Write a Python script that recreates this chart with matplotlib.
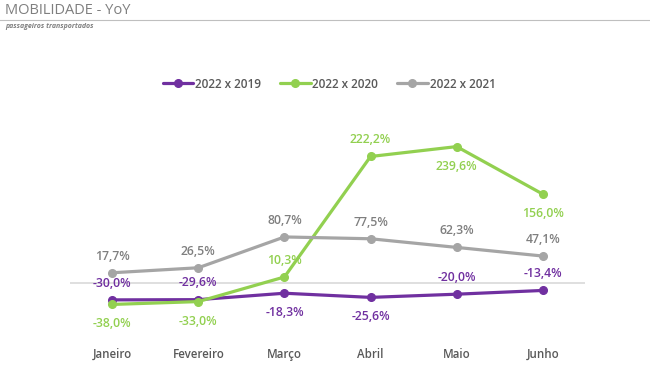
import matplotlib.pyplot as plt

months = ['Janeiro', 'Fevereiro', 'Março', 'Abril', 'Maio', 'Junho']
yoy_2019 = [-30.0, -29.6, -18.3, -25.6, -20.0, -13.4]
yoy_2020 = [-38.0, -33.0, 10.3, 222.2, 239.6, 156.0]
yoy_2021 = [17.7, 26.5, 80.7, 77.5, 62.3, 47.1]
series_names = ['2022 x 2019', '2022 x 2020', '2022 x 2021']

# label placement per point: 1 above, -1 below
pos_2019 = [1, 1, -1, -1, 1, 1]
pos_2020 = [-1, -1, 1, 1, -1, -1]
pos_2021 = [1, 1, 1, 1, 1, 1]

purple = '#7030A0'
green = '#92D050'
gray = '#A5A5A5'
textgray = '#7F7F7F'

plt.rcParams['font.family'] = ['Open Sans', 'DejaVu Sans']

fig = plt.figure(figsize=(6.5, 3.66), dpi=100)
W, H = 650, 366
# axes in pixel box: left 70, right 585, top 135, bottom 334
ax = fig.add_axes([70 / W, 1 - 334 / H, (585 - 70) / W, (334 - 135) / H])

x = list(range(len(months)))
ax.axhline(0, color='#D9D9D9', lw=1.2, zorder=1)

for vals, pos, col, name in [(yoy_2019, pos_2019, purple, series_names[0]),
                             (yoy_2020, pos_2020, green, series_names[1]),
                             (yoy_2021, pos_2021, gray, series_names[2])]:
    ax.plot(x, vals, color=col, lw=2.3, marker='o', markersize=5.5, label=name,
            solid_capstyle='round', zorder=3)
    lblcol = textgray if col == gray else col
    for xi, v, p in zip(x, vals, pos):
        txt = f'{v:.1f}%'.replace('.', ',')
        off = 12 if p > 0 else -14
        ax.annotate(txt, (xi, v), xytext=(0, off), textcoords='offset points',
                    ha='center', va='center', fontsize=8.8, fontweight='semibold',
                    color=lblcol)

ax.set_xlim(-0.49, 5.49)
ax.set_ylim(-90, 260)
ax.set_xticks(x)
ax.set_xticklabels(months, fontsize=8.3, fontweight='semibold', color='#595959')
ax.tick_params(axis='x', length=0, pad=10)
ax.set_yticks([])
for s in ax.spines.values():
    s.set_visible(False)

leg = fig.legend(loc='center', bbox_to_anchor=(329 / W, 1 - 84 / H), ncol=3,
                 frameon=False, handlelength=2.6, columnspacing=1.6,
                 handletextpad=0.15, prop={'size': 8.5, 'weight': 'semibold'})
for t in leg.get_texts():
    t.set_color('#595959')

fig.text(5 / W, 1 - 10 / H, 'MOBILIDADE - YoY', fontsize=10.5, color='#7F7F7F',
         va='center', ha='left')
fig.add_artist(plt.Line2D([0, 1], [1 - 19.5 / H, 1 - 19.5 / H], color='#BFBFBF',
                          lw=0.8, transform=fig.transFigure))
fig.text(5 / W, 1 - 26 / H, 'passageiros transportados', fontsize=5,
         style='italic', fontweight='bold', color='#7F7F7F', va='center', ha='left')

fig.savefig('out.png', dpi=100)
